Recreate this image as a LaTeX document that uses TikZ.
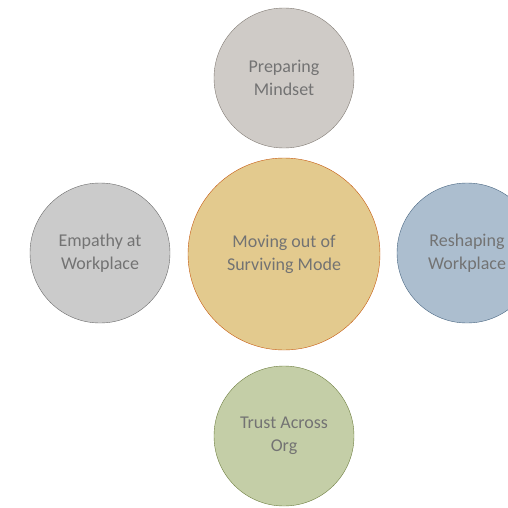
\documentclass[tikz,border=0pt]{standalone}
\usepackage{fontspec}
\setmainfont{Carlito}
\definecolor{coreFill}{HTML}{C8961E}
\definecolor{coreLine}{HTML}{C55A11}
\definecolor{mindFill}{HTML}{A09890}
\definecolor{empFill}{HTML}{989898}
\definecolor{reshFill}{HTML}{5A7EA0}
\definecolor{trustFill}{HTML}{8A9E50}
\tikzset{
  petal/.style={circle, minimum size=140pt, inner sep=0pt, align=center,
    fill opacity=0.5, text opacity=1, text=black!55,
    font=\fontsize{18}{23}\selectfont},
  hub/.style={petal, minimum size=192pt}
}
\begin{document}
\begin{tikzpicture}[x=1pt,y=-1pt]
\useasboundingbox (0,0) rectangle (508,508);

% Centre
\node[hub, fill=coreFill, draw=coreLine] (core) at (284,254) {Moving out of\\Surviving Mode};

% Outer circles
\node[petal, fill=mindFill, draw=mindFill!80!black] (mind) at (284,78) {Preparing\\Mindset};
\node[petal, fill=empFill, draw=empFill!70!black] (emp) at (100,253) {Empathy at\\Workplace};
\node[petal, fill=reshFill, draw=reshFill!80!black] (resh) at (467,253) {Reshaping\\Workplace};
\node[petal, fill=trustFill, draw=trustFill!80!black] (trust) at (284,436) {Trust Across\\Org};

\end{tikzpicture}
\end{document}
